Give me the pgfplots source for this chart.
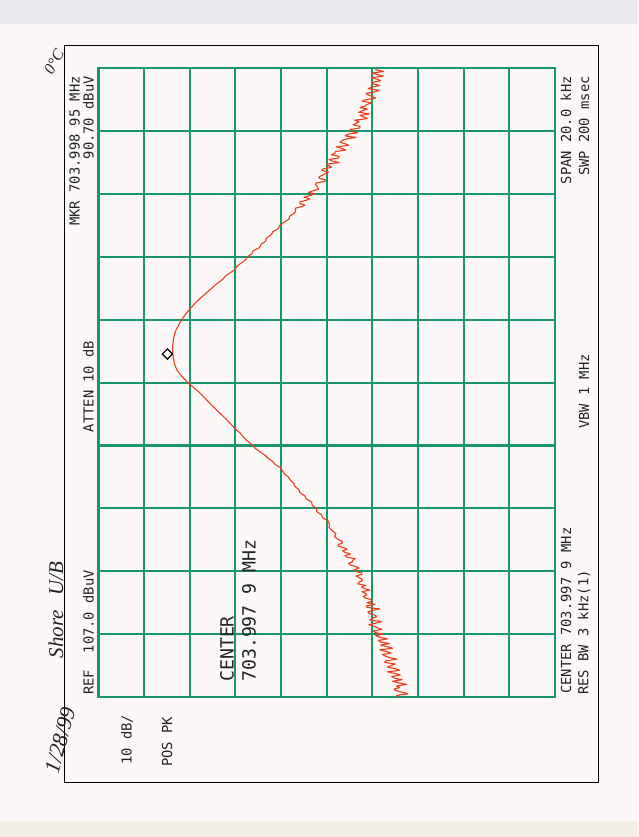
\documentclass[border=0pt]{standalone}
\usepackage{fontspec}
\usepackage{pgfplots}
\pgfplotsset{compat=1.18}
\usepackage{pgfplotstable}
\setmonofont{DejaVu Sans Mono}
\newfontfamily\hand{Liberation Serif}
\definecolor{gridgreen}{RGB}{24,152,106}
\definecolor{trace}{RGB}{236,62,28}
\definecolor{paper}{RGB}{252,248,248}
\definecolor{topband}{RGB}{234,234,238}
\definecolor{botband}{RGB}{242,237,229}
\definecolor{ink}{RGB}{35,35,35}

% amplitude (dBuV)  frequency offset from 703.9979 MHz (kHz)
\pgfplotstableread{
v f
41.0 -10.0
41.7 -9.95
39.2 -9.9
40.4 -9.85
41.8 -9.8
42.3 -9.75
41.0 -9.7
41.8 -9.65
39.5 -9.6
41.2 -9.55
42.6 -9.5
40.5 -9.45
42.1 -9.4
42.8 -9.35
40.9 -9.3
42.1 -9.25
43.7 -9.2
41.0 -9.15
41.9 -9.1
43.7 -9.05
42.9 -9.0
42.0 -8.95
44.3 -8.9
44.1 -8.85
41.6 -8.8
43.1 -8.75
44.1 -8.7
44.8 -8.65
42.9 -8.6
44.0 -8.55
45.4 -8.5
42.6 -8.45
43.8 -8.4
45.2 -8.35
43.3 -8.3
45.2 -8.25
45.7 -8.2
43.7 -8.15
45.4 -8.1
46.3 -8.05
44.6 -8.0
46.4 -7.95
46.8 -7.9
44.9 -7.85
45.9 -7.8
46.6 -7.75
47.8 -7.7
46.2 -7.65
45.0 -7.6
47.6 -7.55
47.0 -7.5
46.1 -7.45
46.4 -7.4
47.5 -7.35
48.0 -7.3
47.2 -7.25
45.4 -7.2
48.2 -7.15
48.3 -7.1
46.4 -7.05
48.2 -7.0
47.1 -6.95
47.3 -6.9
48.6 -6.85
49.0 -6.8
48.2 -6.75
48.5 -6.7
49.3 -6.65
47.6 -6.6
48.8 -6.55
49.4 -6.5
48.5 -6.45
50.2 -6.4
49.9 -6.35
49.2 -6.3
49.3 -6.25
49.9 -6.2
50.6 -6.15
49.3 -6.1
49.4 -6.05
50.8 -6.0
50.9 -5.95
49.9 -5.9
50.7 -5.85
51.8 -5.8
52.2 -5.75
51.4 -5.7
51.3 -5.65
50.8 -5.6
52.6 -5.55
53.0 -5.5
51.8 -5.45
53.0 -5.4
53.5 -5.35
52.5 -5.3
53.3 -5.25
54.5 -5.2
54.4 -5.15
53.6 -5.1
53.6 -5.05
54.4 -5.0
55.3 -4.9
55.0 -4.8
55.9 -4.7
56.5 -4.6
56.4 -4.5
56.7 -4.4
57.9 -4.3
58.2 -4.2
59.2 -4.1
59.2 -4.0
60.2 -3.9
60.3 -3.8
61.5 -3.7
61.8 -3.6
62.9 -3.5
63.1 -3.4
64.0 -3.3
64.2 -3.2
65.0 -3.1
65.4 -3.0
66.3 -2.9
66.7 -2.8
67.2 -2.7
68.3 -2.6
68.9 -2.5
69.9 -2.4
70.6 -2.3
71.6 -2.2
72.6 -2.1
73.2 -2.0
74.0 -1.9
74.8 -1.8
75.4 -1.7
76.0 -1.6
76.8 -1.5
77.5 -1.4
78.1 -1.3
78.8 -1.2
79.5 -1.1
80.2 -1.0
80.9 -0.9
81.6 -0.8
82.3 -0.7
83.0 -0.6
83.6 -0.5
84.3 -0.4
85.0 -0.3
85.8 -0.2
86.6 -0.1
87.4 0.0
88.1 0.1
88.7 0.2
89.3 0.3
89.8 0.4
90.1 0.5
90.35 0.6
90.5 0.7
90.62 0.8
90.7 0.9
90.75 1.0
90.75 1.1
90.72 1.2
90.65 1.3
90.55 1.4
90.4 1.5
90.2 1.6
89.95 1.7
89.55 1.8
89.2 1.9
88.8 2.0
88.3 2.1
87.8 2.2
87.2 2.3
86.6 2.4
86.0 2.5
85.3 2.6
84.6 2.7
83.8 2.8
83.0 2.9
82.2 3.0
81.5 3.1
80.6 3.2
79.7 3.3
79.1 3.4
78.1 3.5
77.1 3.6
76.7 3.7
75.8 3.8
74.8 3.9
74.4 4.0
73.4 4.1
73.1 4.2
71.7 4.3
71.4 4.4
70.4 4.5
70.2 4.6
69.2 4.7
68.8 4.8
67.6 4.9
67.3 5.0
66.4 5.1
65.3 5.2
65.1 5.3
64.0 5.4
63.8 5.5
63.9 5.55
62.4 5.6
61.8 5.65
62.9 5.7
62.9 5.75
61.5 5.8
60.7 5.85
62.0 5.9
60.7 5.95
59.6 6.0
61.0 6.05
60.1 6.1
58.8 6.15
59.0 6.2
59.1 6.25
59.5 6.3
59.3 6.35
57.4 6.4
57.3 6.45
58.6 6.5
58.7 6.55
57.9 6.6
57.3 6.65
56.6 6.7
58.1 6.75
57.8 6.8
55.9 6.85
56.6 6.9
57.1 6.95
54.3 7.0
55.8 7.05
56.5 7.1
54.4 7.15
54.3 7.2
56.0 7.25
55.2 7.3
55.1 7.35
52.8 7.4
53.7 7.45
54.9 7.5
52.2 7.55
53.0 7.6
54.1 7.65
53.6 7.7
52.8 7.75
50.6 7.8
53.0 7.85
52.4 7.9
50.3 7.95
51.6 8.0
51.9 8.05
49.8 8.1
49.7 8.15
51.2 8.2
50.6 8.25
49.9 8.3
50.9 8.35
48.1 8.4
48.9 8.45
49.7 8.5
47.7 8.55
50.0 8.6
49.2 8.65
48.1 8.7
49.7 8.75
48.6 8.8
48.2 8.85
47.1 8.9
49.2 8.95
48.5 9.0
46.3 9.05
47.0 9.1
47.9 9.15
48.4 9.2
46.5 9.25
45.5 9.3
47.9 9.35
47.3 9.4
45.4 9.45
46.7 9.5
47.2 9.55
45.2 9.6
45.9 9.65
47.2 9.7
44.6 9.75
45.9 9.8
47.0 9.85
44.5 9.9
46.2 9.95
46.4 10.0
}\trace

\begin{document}
\begin{tikzpicture}
% paper
\fill[paper] (0pt,0pt) rectangle (638pt,837pt);
\fill[topband] (0pt,813pt) rectangle (638pt,837pt);
\fill[botband] (0pt,0pt) rectangle (638pt,16pt);
% outer frame
\draw[black, line width=0.9pt] (64pt,55pt) rectangle (598.5pt,791.5pt);

\begin{axis}[
  at={(98.5pt,140pt)}, anchor=south west,
  scale only axis, width=456.5pt, height=628.7pt,
  xmin=7, xmax=107, x dir=reverse,
  ymin=-10, ymax=10,
  xtick={7,17,27,37,47,57,67,77,87,97,107},
  ytick={-10,-8,-6,-4,-2,0,2,4,6,8,10},
  xticklabels={}, yticklabels={},
  major tick length=0pt,
  grid=major,
  grid style={gridgreen, line width=2.1pt},
  axis line style={gridgreen, line width=2.1pt},
  clip=true,
]
\addplot[trace, line width=1.1pt, line join=round] table[x=v, y=f] {\trace};
\addplot[only marks, mark=square, mark size=3.6pt,
  mark options={rotate=45, black, line width=1.2pt, fill=none}]
  coordinates {(91.9,0.91)};
\end{axis}

% instrument annotations (rotated)
\begin{scope}[every node/.style={inner sep=0pt, rotate=90, font=\ttfamily\fontsize{13.8}{14}\selectfont, text=ink}]
\node[anchor=east] at (74.5pt,761pt) {MKR 703.998 95 MHz};
\node[anchor=east] at (88.5pt,761pt) {90.70 dBuV};
\node[anchor=east] at (566pt,761pt) {SPAN 20.0 kHz};
\node[anchor=east] at (584pt,761pt) {SWP 200 msec};
\node[anchor=center] at (88.5pt,450.5pt) {ATTEN 10 dB};
\node[anchor=center] at (584pt,445.5pt) {VBW 1 MHz};
\node[anchor=west] at (88.5pt,142pt) {REF\ \ 107.0 dBuV};
\node[anchor=west] at (566pt,143pt) {CENTER 703.997 9 MHz};
\node[anchor=west] at (584pt,142pt) {RES BW 3 kHz(1)};
\node[anchor=west] at (127pt,72pt) {10 dB/};
\node[anchor=west] at (167pt,70pt) {POS PK};
\node[anchor=west, font=\ttfamily\fontsize{18.2}{19}\selectfont] at (227pt,155pt) {CENTER};
\node[anchor=west, font=\ttfamily\fontsize{18.2}{19}\selectfont] at (249pt,155pt) {703.997 9 MHz};
\end{scope}

% handwriting
\node[rotate=75, inner sep=0pt, text=ink, font=\hand\itshape\fontsize{22}{24}\selectfont] at (60pt,97pt) {1/28/99};
\node[rotate=90, inner sep=0pt, text=ink, font=\hand\itshape\fontsize{21}{22}\selectfont] at (56pt,227pt) {Shore\hspace{14pt}U/B};
\node[rotate=60, inner sep=0pt, text=ink, font=\hand\itshape\fontsize{16}{16}\selectfont] at (54pt,775pt) {0°C};
\end{tikzpicture}
\end{document}
